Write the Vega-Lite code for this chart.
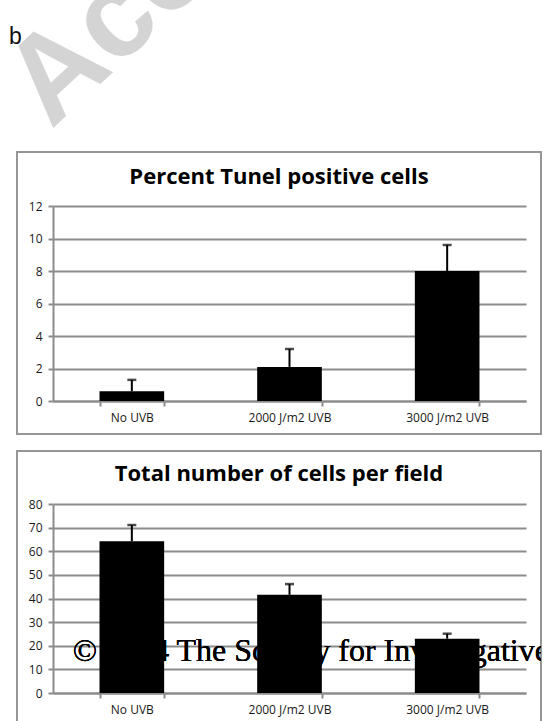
{
  "$schema": "https://vega.github.io/schema/vega-lite/v6.json",
  "padding": {"left": 8, "top": 0, "right": 3, "bottom": -1},
  "spacing": 15,
  "background": "white",
  "config": {
    "view": {"stroke": "#969696", "strokeWidth": 2},
    "axis": {
      "labelFont": "Open Sans",
      "labelFontSize": 12,
      "labelColor": "#1a1a1a",
      "domainColor": "#8c8c8c",
      "domainWidth": 2,
      "tickColor": "#8c8c8c",
      "tickWidth": 2,
      "tickSize": 5,
      "gridColor": "#8c8c8c",
      "gridWidth": 2,
      "labelPadding": 6
    }
  },
  "vconcat": [
    {
      "width": 524,
      "height": 136,
      "view": {"stroke": null},
      "layer": [
        {
          "data": {"values": [{"t": "Accepted Article", "px": 0.065, "py": 0.0441}]},
          "mark": {"type": "text", "clip": true, "angle": -43, "font": "Liberation Sans", "fontWeight": "bold", "fontSize": 122, "color": "#d4d4d4", "align": "left", "baseline": "alphabetic"},
          "encoding": {
            "x": {"field": "px", "type": "quantitative", "scale": {"domain": [0, 1], "nice": false, "zero": false}, "axis": null},
            "y": {"field": "py", "type": "quantitative", "scale": {"domain": [0, 1], "nice": false, "zero": false}, "axis": null},
            "text": {"field": "t"}
          }
        },
        {
          "data": {"values": [{"t": "b", "px": -0.0153, "py": 0.6765}]},
          "mark": {"type": "text", "font": "Liberation Sans", "fontSize": 23, "color": "#111111", "align": "left", "baseline": "alphabetic"},
          "encoding": {
            "x": {"field": "px", "type": "quantitative", "scale": {"domain": [0, 1], "nice": false, "zero": false}, "axis": null},
            "y": {"field": "py", "type": "quantitative", "scale": {"domain": [0, 1], "nice": false, "zero": false}, "axis": null},
            "text": {"field": "t"}
          }
        }
      ]
    },
    {
      "width": 524,
      "height": 282,
      "title": {"text": "Percent Tunel positive cells", "frame": "group", "anchor": "middle", "offset": -54, "baseline": "alphabetic", "font": "Open Sans", "fontSize": 22, "fontWeight": "bold", "color": "#000000"},
      "data": {"values": [
        {"group": "No UVB", "mean": 0.6, "upper": 1.3},
        {"group": "2000 J/m2 UVB", "mean": 2.1, "upper": 3.2},
        {"group": "3000 J/m2 UVB", "mean": 8.0, "upper": 9.6}
      ]},
      "encoding": {
        "x": {"field": "group", "type": "nominal", "sort": null, "title": null,
              "scale": {"range": [36, 509], "paddingInner": 0.59, "paddingOuter": 0.295},
              "axis": {"offset": -33, "labelAngle": 0, "tickBand": "extent", "grid": false}}
      },
      "layer": [
        {
          "mark": {"type": "bar", "color": "#000000"},
          "encoding": {
            "y": {"field": "mean", "type": "quantitative", "title": null,
                  "scale": {"domain": [0, 12], "range": [249, 54]},
                  "axis": {"offset": -36, "tickCount": 20, "format": "d", "values": [0, 2, 4, 6, 8, 10, 12], "grid": true, "labelOverlap": false}}
          }
        },
        {
          "mark": {"type": "rule", "color": "#000000", "strokeWidth": 2},
          "encoding": {"y": {"field": "mean", "type": "quantitative", "title": null}, "y2": {"field": "upper"}}
        },
        {
          "mark": {"type": "tick", "color": "#000000", "thickness": 2.5, "size": 9},
          "encoding": {"y": {"field": "upper", "type": "quantitative", "title": null}}
        }
      ]
    },
    {
      "width": 524,
      "height": 274,
      "title": {"text": "Total number of cells per field", "frame": "group", "anchor": "middle", "offset": -52, "baseline": "alphabetic", "font": "Open Sans", "fontSize": 22, "fontWeight": "bold", "color": "#000000"},
      "data": {"values": [
        {"group": "No UVB", "mean": 64.2, "upper": 71.1},
        {"group": "2000 J/m2 UVB", "mean": 41.6, "upper": 46.1},
        {"group": "3000 J/m2 UVB", "mean": 23.0, "upper": 25.1}
      ]},
      "encoding": {
        "x": {"field": "group", "type": "nominal", "sort": null, "title": null,
              "scale": {"range": [36, 509], "paddingInner": 0.59, "paddingOuter": 0.295},
              "axis": {"offset": -32, "labelAngle": 0, "tickBand": "extent", "grid": false}}
      },
      "layer": [
        {
          "mark": {"type": "bar", "color": "#000000"},
          "encoding": {
            "y": {"field": "mean", "type": "quantitative", "title": null,
                  "scale": {"domain": [0, 80], "range": [242, 53]},
                  "axis": {"offset": -36, "tickCount": 20, "format": "d", "values": [0, 10, 20, 30, 40, 50, 60, 70, 80], "grid": true, "labelOverlap": false}}
          }
        },
        {
          "mark": {"type": "rule", "color": "#000000", "strokeWidth": 2},
          "encoding": {"y": {"field": "mean", "type": "quantitative", "title": null}, "y2": {"field": "upper"}}
        },
        {
          "mark": {"type": "tick", "color": "#000000", "thickness": 2.5, "size": 9},
          "encoding": {"y": {"field": "upper", "type": "quantitative", "title": null}}
        },
        {
          "mark": {"type": "text", "text": "© 2014 The Society for Investigative Dermatology", "font": "Liberation Serif", "fontSize": 32, "align": "left", "baseline": "alphabetic", "color": "#000000", "clip": true, "dx": -59},
          "encoding": {
            "x": {"datum": "No UVB", "type": "nominal"},
            "y": {"datum": 13.5, "type": "quantitative", "title": null}
          }
        }
      ]
    }
  ]
}
